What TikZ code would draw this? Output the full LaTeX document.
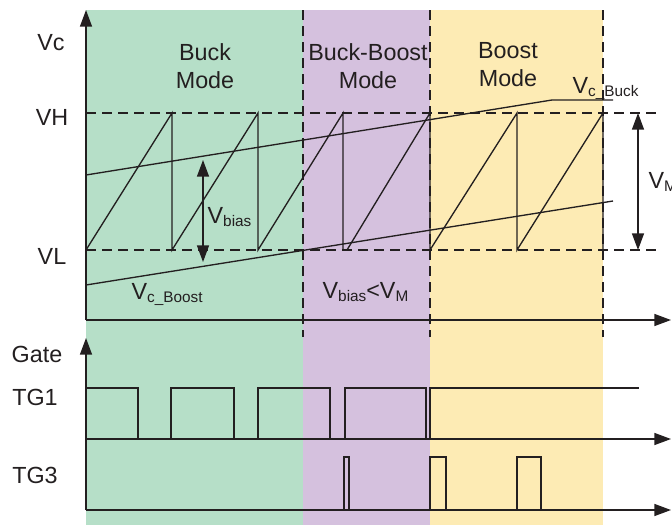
\documentclass[tikz,border=0pt]{standalone}
\usepackage{fontspec}
\setmainfont{Liberation Sans}
\usetikzlibrary{arrows.meta}
\definecolor{buckgreen}{RGB}{182,223,200}
\definecolor{bbpurple}{RGB}{213,193,222}
\definecolor{boostyellow}{RGB}{253,235,180}
\definecolor{ink}{RGB}{35,31,32}
\newcommand{\lowsub}[1]{\raisebox{-2.5pt}{\fontsize{11.5}{12}\selectfont #1}}
\begin{document}
\begin{tikzpicture}[x=0.75pt,y=-0.75pt,
  line width=1pt, draw=ink,
  axis/.style={line width=1.1pt,-{Triangle[length=12.5pt,width=9pt]}},
  dim/.style={line width=1.1pt,{Triangle[length=12.5pt,width=9pt]}-{Triangle[length=12.5pt,width=9pt]}},
  guide/.style={dash pattern=on 7.5pt off 4.5pt, line width=1pt},
  lbl/.style={font=\fontsize{17.5}{21}\selectfont, inner sep=0pt, text=ink}]
\useasboundingbox (0,0) rectangle (672,525);
\clip (0,0) rectangle (672,525);
% mode regions
\fill[buckgreen] (86,10) rectangle (303,525);
\fill[bbpurple] (303,10) rectangle (430,525);
\fill[boostyellow] (430,10) rectangle (603,525);
% guide lines
\draw[guide] (86,113) -- (660,113);
\draw[guide] (86,250) -- (660,250);
\draw[guide] (303,10) -- (303,337);
\draw[guide] (430,10) -- (430,337);
\draw[guide] (603,10) -- (603,337);
% sawtooth
\draw (86,250) -- (172,113) -- (172,250) -- (258,113) -- (258,250) -- (343,113) -- (343,250) -- (347,250)
  -- (430,113) -- (430,250) -- (517,113) -- (517,250) -- (603,113) -- (603,250);
% control voltages
\draw (86,175) -- (552,100) -- (613,100);
\draw (86,285) -- (613,201);
% dimension arrows
\draw[dim] (203,160) -- (203,262);
\draw[dim] (638,113) -- (638,250);
% axes
\draw[axis] (86,320) -- (86,10);
\draw[axis] (86,320) -- (671,320);
\draw[axis] (86,510) -- (86,338);
\draw[axis] (86,439) -- (671,439);
\draw[axis] (86,510) -- (671,510);
% TG1
\draw (86,439) -- (86,388) -- (138,388) -- (138,439)
      (171,439) -- (171,388) -- (234,388) -- (234,439)
      (258,439) -- (258,388) -- (330,388) -- (330,439)
      (345,439) -- (345,388) -- (426,388) -- (426,439)
      (430,439) -- (430,388) -- (639,388);
% TG3
\draw (344,510) -- (344,457) -- (349,457) -- (349,510)
      (430,510) -- (430,457) -- (446,457) -- (446,510)
      (517,510) -- (517,457) -- (541,457) -- (541,510);
% labels
\node[lbl] (vc) at (51,43) {Vc};
\node[lbl] (vh) at (52,117) {VH};
\node[lbl] (vl) at (52,256) {VL};
\node[lbl] (gate) at (37,354) {Gate};
\node[lbl] (tg1) at (35,397) {TG1};
\node[lbl] (tg3) at (35,475) {TG3};
\node[lbl,align=center] (buck) at (205,66) {Buck\\Mode};
\node[lbl,align=center] (bb) at (368,66) {Buck-Boost\\Mode};
\node[lbl,align=center] (boost) at (508,65) {Boost\\Mode};
\node[lbl,anchor=base west] (vcbuck) at (572,93) {V\lowsub{c\_Buck}};
\node[lbl,anchor=base west] (vcboost) at (131,299) {V\lowsub{c\_Boost}};
\node[lbl,anchor=base west] (vbias) at (207,223) {V\lowsub{bias}};
\node[lbl,anchor=base west] (cond) at (322,298) {V\lowsub{bias}<V\lowsub{M}};
\node[lbl,anchor=base west] (vm) at (648,188) {V\lowsub{M}};
\end{tikzpicture}
\end{document}
